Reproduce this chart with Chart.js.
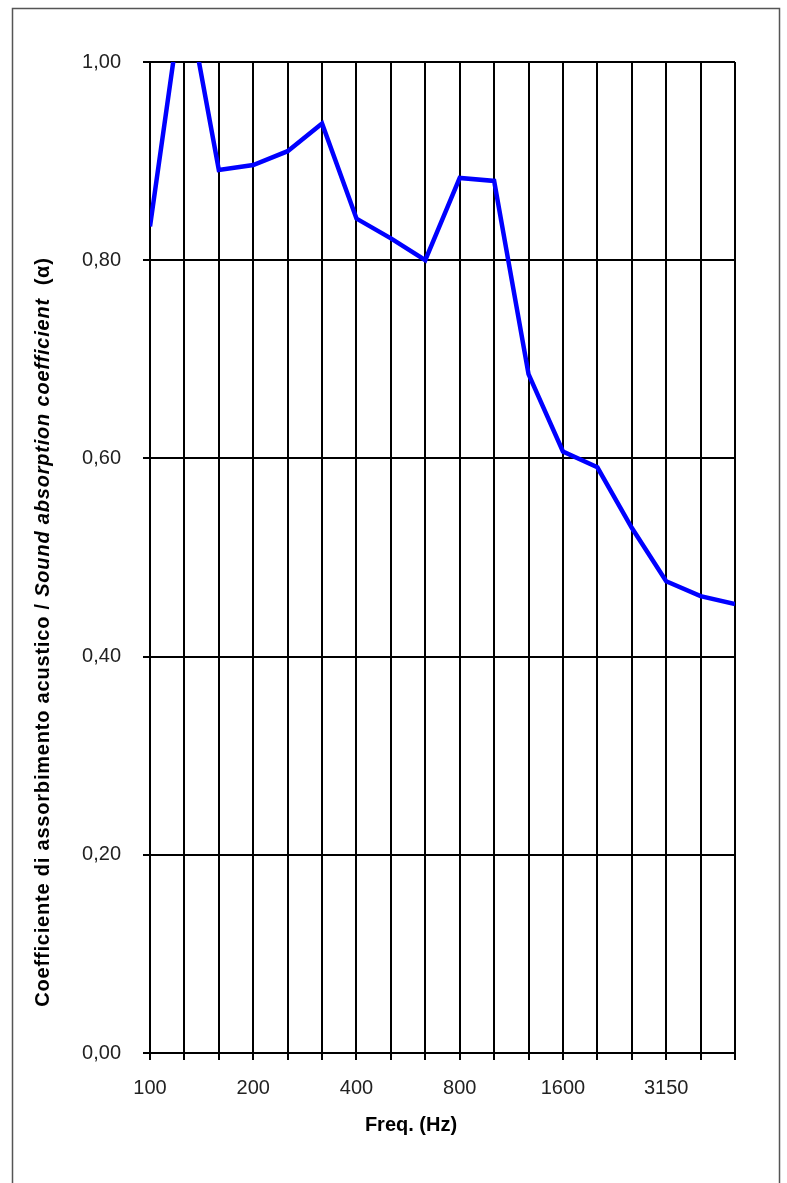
<!DOCTYPE html>
<html>
<head>
<meta charset="utf-8">
<script src="https://cdn.jsdelivr.net/npm/chart.js@4/dist/chart.umd.min.js"></script>
<style>
  html, body { margin: 0; padding: 0; background: #fff; }
  canvas { display: block; }
</style>
</head>
<body>
<canvas id="alphaChart" width="787" height="1183"></canvas>
<script>
// bande di terzo d'ottava (Hz)
const freqLabels = ['100', '125', '160', '200', '250', '315', '400', '500', '630',
                    '800', '1000', '1250', '1600', '2000', '2500', '3150', '4000', '5000'];
// etichette mostrate sull'asse x
const shownFreqLabels = ['100', '200', '400', '800', '1600', '3150'];
// coefficiente di assorbimento
const alphaValues = [0.834, 1.08, 0.891, 0.896, 0.910, 0.938, 0.842, 0.822, 0.800,
                     0.883, 0.880, 0.685, 0.607, 0.591, 0.530, 0.476, 0.461, 0.453];
const yTickValues = [0, 0.2, 0.4, 0.6, 0.8, 1.0];

const titleFont = '"Liberation Sans", Arial, sans-serif';

// cornice esterna + titoli degli assi (testo misto grassetto/corsivo)
const framePlugin = {
    id: 'frame',
    beforeDraw(chart) {
        const ctx = chart.ctx;
        ctx.save();
        ctx.fillStyle = '#fff';
        ctx.fillRect(0, 0, chart.width, chart.height);
        ctx.strokeStyle = '#555';
        ctx.lineWidth = 1.5;
        ctx.strokeRect(12.5, 8.5, 767, 1200);
        ctx.restore();
    },
    afterDraw(chart) {
        const ctx = chart.ctx;
        ctx.save();
        ctx.fillStyle = '#000';
        ctx.textBaseline = 'middle';

        // titolo asse x
        ctx.font = 'bold 20px ' + titleFont;
        ctx.textAlign = 'center';
        ctx.fillText('Freq. (Hz)', 411, 1125);

        // titolo asse y, ruotato
        if ('letterSpacing' in ctx) ctx.letterSpacing = '0.8px';
        const parts = [
            { text: 'Coefficiente di assorbimento acustico / ', font: 'bold 20px ' + titleFont },
            { text: 'Sound absorption coefficient', font: 'italic bold 20px ' + titleFont },
            { text: '  (\u03b1)', font: 'bold 20px ' + titleFont }
        ];
        let total = 0;
        parts.forEach(p => { ctx.font = p.font; p.w = ctx.measureText(p.text).width; total += p.w; });
        ctx.translate(43, 632);
        ctx.rotate(-Math.PI / 2);
        ctx.textAlign = 'left';
        let x = -total / 2;
        parts.forEach(p => { ctx.font = p.font; ctx.fillText(p.text, x, 0); x += p.w; });
        ctx.restore();
    }
};

new Chart(document.getElementById('alphaChart'), {
    type: 'line',
    data: {
        labels: freqLabels,
        datasets: [{
            data: alphaValues,
            borderColor: '#0000ff',
            borderWidth: 4.5,
            pointRadius: 0,
            tension: 0,
            clip: 0,
            fill: false
        }]
    },
    options: {
        responsive: false,
        animation: false,
        devicePixelRatio: 1,
        layout: { padding: { top: 62, right: 52, left: 0, bottom: 0 } },
        plugins: { legend: { display: false }, tooltip: { enabled: false } },
        scales: {
            x: {
                offset: false,
                afterFit: (scale) => { scale.height = 130; },
                grid: { color: '#000', lineWidth: 2, tickLength: 7 },
                border: { color: '#000', width: 2 },
                ticks: {
                    autoSkip: false,
                    maxRotation: 0,
                    padding: 16,
                    color: '#222',
                    font: { family: titleFont, size: 20 },
                    callback: function (value) {
                        const lbl = freqLabels[value];
                        return shownFreqLabels.includes(lbl) ? lbl : '';
                    }
                }
            },
            y: {
                min: 0,
                max: 1,
                afterFit: (scale) => { scale.width = 150; },
                afterBuildTicks: (scale) => { scale.ticks = yTickValues.map(v => ({ value: v })); },
                grid: { color: '#000', lineWidth: 2, tickLength: 7 },
                border: { color: '#000', width: 2 },
                ticks: {
                    padding: 22,
                    color: '#222',
                    font: { family: titleFont, size: 20 },
                    callback: (v) => v.toFixed(2).replace('.', ',')
                }
            }
        }
    },
    plugins: [framePlugin]
});
</script>
</body>
</html>
